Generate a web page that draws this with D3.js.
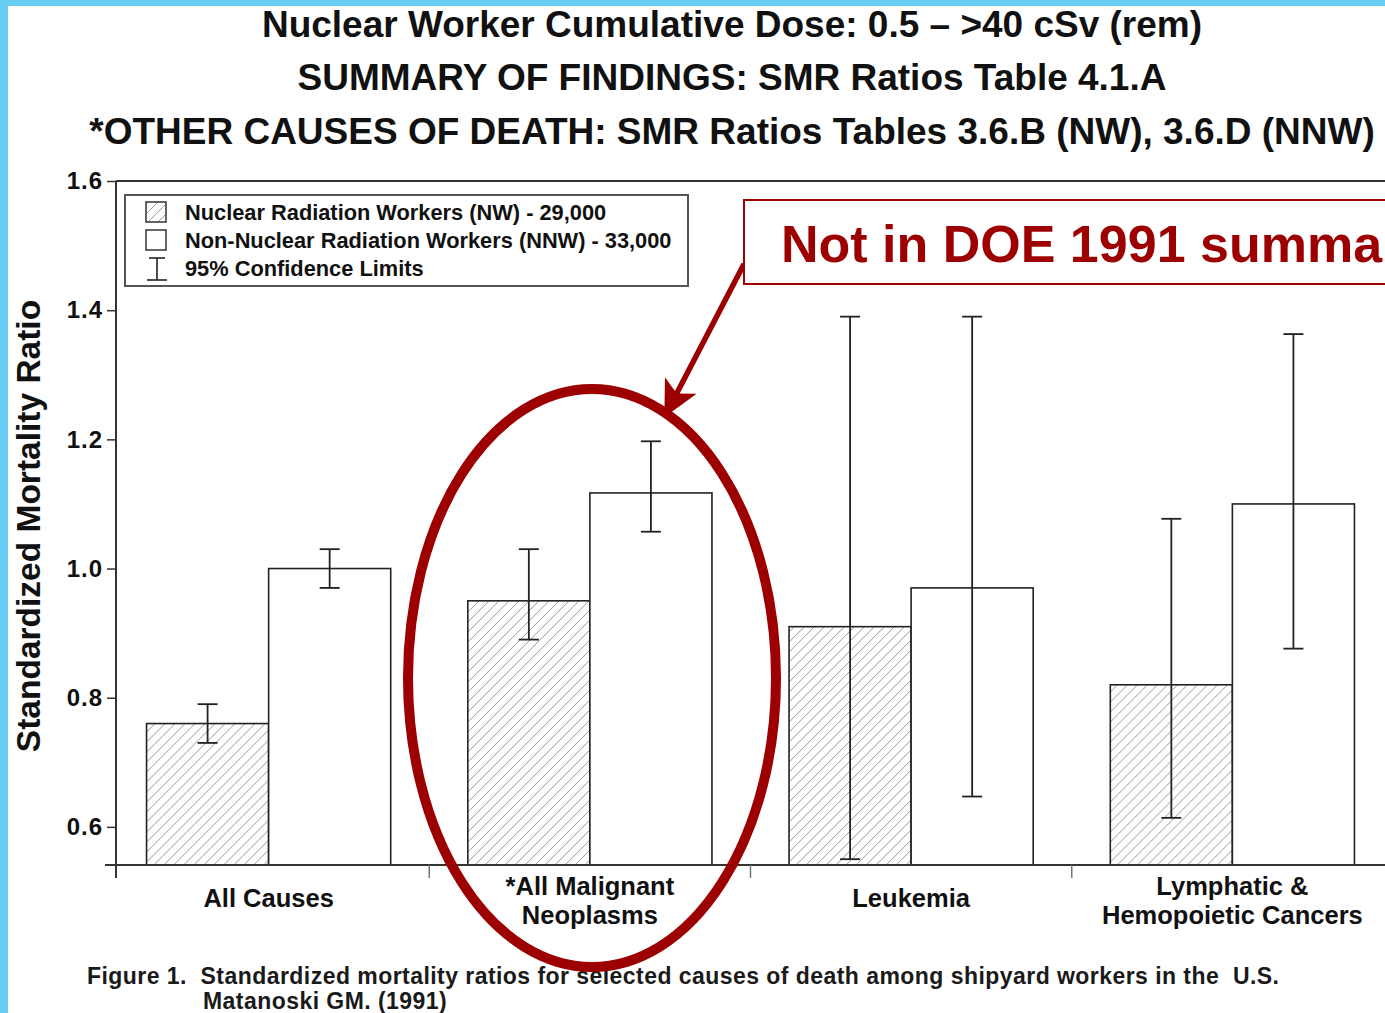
<!DOCTYPE html>
<html>
<head>
<meta charset="utf-8">
<script src="https://cdn.jsdelivr.net/npm/d3@7"></script>
<style>
  html, body { margin: 0; padding: 0; background: #fff; overflow: hidden; }
  svg { display: block; font-family: "Liberation Sans", Arial, Helvetica, sans-serif; }
</style>
</head>
<body>
<div id="chart"></div>
<script>
// chart data
const categories = [["All Causes"], ["*All Malignant", "Neoplasms"], ["Leukemia"], ["Lymphatic &", "Hemopoietic Cancers"]];
const nwSMR   = [0.76, 0.95, 0.91, 0.82];
const nwLow   = [0.73, 0.89, 0.55, 0.614];
const nwHigh  = [0.79, 1.03, 1.39, 1.077];
const nnwSMR  = [1.00, 1.117, 0.97, 1.10];
const nnwLow  = [0.97, 1.057, 0.647, 0.876];
const nnwHigh = [1.03, 1.197, 1.39, 1.363];
const yTicks  = [0.6, 0.8, 1.0, 1.2, 1.4, 1.6];
const legendLabels = ["Nuclear Radiation Workers (NW) - 29,000", "Non-Nuclear Radiation Workers (NNW) - 33,000", "95% Confidence Limits"];
const titles = ["Nuclear Worker Cumulative Dose: 0.5 \u2013 >40 cSv (rem)", "SUMMARY OF FINDINGS: SMR Ratios Table 4.1.A", "*OTHER CAUSES OF DEATH: SMR Ratios Tables 3.6.B (NW), 3.6.D (NNW)"];

const width = 1385, height = 1013;
const red = "#9c0000";
const axisColor = "#333";

const svg = d3.select("#chart").append("svg")
    .attr("width", width)
    .attr("height", height);

// hatch pattern for NW bars
const defs = svg.append("defs");
const pat = defs.append("pattern")
    .attr("id", "hatch")
    .attr("patternUnits", "userSpaceOnUse")
    .attr("width", 10).attr("height", 10);
pat.append("path")
    .attr("d", "M-1,1 l2,-2 M0,10 l10,-10 M9,11 l2,-2")
    .attr("stroke", "#9a9a9a").attr("stroke-width", 1);

defs.append("marker")
    .attr("id", "arrowhead")
    .attr("viewBox", "0 0 10 10")
    .attr("refX", 9).attr("refY", 5)
    .attr("markerWidth", 6.5).attr("markerHeight", 6.5)
    .attr("markerUnits", "strokeWidth")
    .attr("orient", "auto")
    .append("path")
    .attr("d", "M0,0 L10,5 L0,10 L2.5,5 Z")
    .attr("fill", red);

// blue slide border
svg.append("rect").attr("x", 0).attr("y", 0).attr("width", width).attr("height", 6).attr("fill", "#68ccf4");
svg.append("rect").attr("x", 0).attr("y", 0).attr("width", 8).attr("height", height).attr("fill", "#68ccf4");

// titles
const titleY = [37, 90, 144];
svg.append("g").selectAll("text")
    .data(titles)
    .enter().append("text")
    .attr("x", 732)
    .attr("y", (d, i) => titleY[i])
    .attr("text-anchor", "middle")
    .attr("font-size", 37)
    .attr("font-weight", "bold")
    .attr("fill", "#111")
    .text(d => d);

// scales
const x0 = d3.scaleBand()
    .domain(d3.range(categories.length))
    .range([108, 1393])
    .padding(0);
const barW = x0.bandwidth() * 0.38;
const y = d3.scaleLinear()
    .domain([0.541, 1.6])
    .range([865, 181]);

const plotLeft = 116;

// y axis
const yAxis = d3.axisLeft(y)
    .tickValues(yTicks)
    .tickFormat(d3.format(".1f"))
    .tickSize(9)
    .tickSizeOuter(0)
    .tickPadding(4);
const gy = svg.append("g")
    .attr("transform", `translate(${plotLeft},0)`)
    .call(yAxis);
gy.select(".domain").remove();
gy.selectAll(".tick line").attr("stroke", axisColor).attr("stroke-width", 1.5);
gy.selectAll(".tick text")
    .attr("font-size", 24).attr("font-weight", "bold").attr("fill", "#111")
    .attr("letter-spacing", 1)
    .attr("font-family", "Liberation Sans, Arial, sans-serif");

// frame lines
svg.append("line").attr("x1", plotLeft).attr("x2", plotLeft).attr("y1", y(1.6)).attr("y2", 878)
    .attr("stroke", axisColor).attr("stroke-width", 2);
svg.append("line").attr("x1", plotLeft).attr("x2", width).attr("y1", y(1.6)).attr("y2", y(1.6))
    .attr("stroke", axisColor).attr("stroke-width", 2);

// bars
const groups = svg.append("g").selectAll("g")
    .data(categories.map((c, i) => i))
    .enter().append("g")
    .attr("transform", i => `translate(${x0(i) + x0.bandwidth() / 2},0)`);

groups.append("rect")
    .attr("x", -barW).attr("width", barW)
    .attr("y", i => y(nwSMR[i]))
    .attr("height", i => y.range()[0] - y(nwSMR[i]))
    .attr("fill", "url(#hatch)")
    .attr("stroke", "#222").attr("stroke-width", 1.6);

groups.append("rect")
    .attr("x", 0).attr("width", barW)
    .attr("y", i => y(nnwSMR[i]))
    .attr("height", i => y.range()[0] - y(nnwSMR[i]))
    .attr("fill", "#fff")
    .attr("stroke", "#222").attr("stroke-width", 1.6);

// error bars
function errorBar(sel, cx, lowArr, highArr) {
    const cap = 10;
    sel.append("line").attr("x1", cx).attr("x2", cx)
        .attr("y1", i => y(lowArr[i])).attr("y2", i => y(highArr[i]));
    sel.append("line").attr("x1", cx - cap).attr("x2", cx + cap)
        .attr("y1", i => y(lowArr[i])).attr("y2", i => y(lowArr[i]));
    sel.append("line").attr("x1", cx - cap).attr("x2", cx + cap)
        .attr("y1", i => y(highArr[i])).attr("y2", i => y(highArr[i]));
}
const eb = groups.append("g").attr("stroke", "#222").attr("stroke-width", 1.8);
errorBar(eb, -barW / 2, nwLow, nwHigh);
errorBar(eb, barW / 2, nnwLow, nnwHigh);

// x axis line and category ticks
svg.append("line").attr("x1", 105).attr("x2", width).attr("y1", 865).attr("y2", 865)
    .attr("stroke", axisColor).attr("stroke-width", 2);
svg.append("g").selectAll("line")
    .data(categories.map((c, i) => i).slice(1))
    .enter().append("line")
    .attr("x1", i => x0(i)).attr("x2", i => x0(i))
    .attr("y1", 865).attr("y2", 878)
    .attr("stroke", "#777").attr("stroke-width", 1.5);

// category labels
const catLabels = svg.append("g").selectAll("text")
    .data(categories)
    .enter().append("text")
    .attr("x", (d, i) => x0(i) + x0.bandwidth() / 2)
    .attr("y", d => d.length === 1 ? 907 : 895)
    .attr("text-anchor", "middle")
    .attr("font-size", 25.5)
    .attr("font-weight", "bold")
    .attr("fill", "#111");
catLabels.selectAll("tspan")
    .data(d => d)
    .enter().append("tspan")
    .attr("x", function() { return d3.select(this.parentNode).attr("x"); })
    .attr("dy", (d, j) => j === 0 ? 0 : 29)
    .text(d => d);

// legend
const legend = svg.append("g");
legend.append("rect")
    .attr("x", 125).attr("y", 195).attr("width", 563).attr("height", 91)
    .attr("fill", "#fff").attr("stroke", "#555").attr("stroke-width", 2);
legend.append("rect").attr("x", 146).attr("y", 202).attr("width", 20).attr("height", 20)
    .attr("fill", "url(#hatch)").attr("stroke", "#333").attr("stroke-width", 1.5);
legend.append("rect").attr("x", 146).attr("y", 230).attr("width", 20).attr("height", 20)
    .attr("fill", "#fff").attr("stroke", "#333").attr("stroke-width", 1.5);
const ib = legend.append("g").attr("stroke", "#222").attr("stroke-width", 1.6);
ib.append("line").attr("x1", 157).attr("x2", 157).attr("y1", 258).attr("y2", 280);
ib.append("line").attr("x1", 149).attr("x2", 165).attr("y1", 258).attr("y2", 258);
ib.append("line").attr("x1", 147).attr("x2", 167).attr("y1", 280).attr("y2", 280);
legend.selectAll("text.lg")
    .data(legendLabels)
    .enter().append("text")
    .attr("class", "lg")
    .attr("x", 185)
    .attr("y", (d, i) => 220 + i * 28)
    .attr("font-size", 21.8)
    .attr("font-weight", "bold")
    .attr("fill", "#111")
    .text(d => d);

// y axis title
svg.append("text")
    .attr("transform", "translate(40,526) rotate(-90)")
    .attr("text-anchor", "middle")
    .attr("font-size", 33.5)
    .attr("font-weight", "bold")
    .attr("fill", "#111")
    .text("Standardized Mortality Ratio");

// caption
svg.append("text")
    .attr("x", 87).attr("y", 984)
    .attr("font-size", 23).attr("font-weight", "bold").attr("fill", "#1a1a1a")
    .attr("letter-spacing", 0.45)
    .attr("xml:space", "preserve")
    .text("Figure 1.  Standardized mortality ratios for selected causes of death among shipyard workers in the  U.S.");
svg.append("text")
    .attr("x", 203).attr("y", 1009)
    .attr("font-size", 23).attr("font-weight", "bold").attr("fill", "#1a1a1a")
    .attr("letter-spacing", 0.45)
    .text("Matanoski GM. (1991)");

// annotation: ellipse, arrow, red box
svg.append("ellipse")
    .attr("cx", 592).attr("cy", 678).attr("rx", 184).attr("ry", 289)
    .attr("fill", "none").attr("stroke", red).attr("stroke-width", 10);

svg.append("line")
    .attr("x1", 744).attr("y1", 264).attr("x2", 666).attr("y2", 414)
    .attr("stroke", red).attr("stroke-width", 5.5)
    .attr("marker-end", "url(#arrowhead)");

svg.append("rect")
    .attr("x", 744).attr("y", 200).attr("width", 700).attr("height", 84)
    .attr("fill", "#fff").attr("stroke", red).attr("stroke-width", 2);
svg.append("text")
    .attr("x", 781).attr("y", 262)
    .attr("font-size", 52).attr("font-weight", "bold").attr("fill", red)
    .text("Not in DOE 1991 summary");
</script>
</body>
</html>
